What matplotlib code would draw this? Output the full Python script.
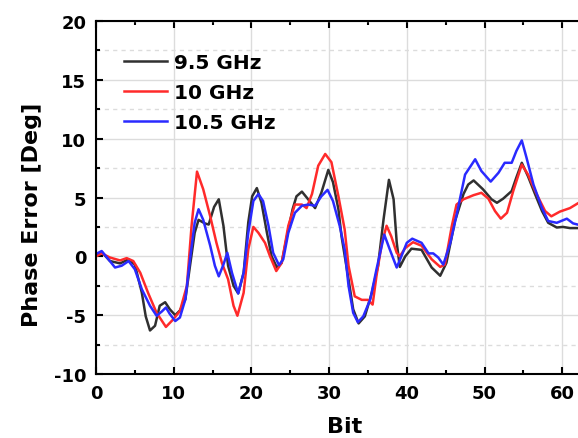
import numpy as np
import matplotlib
matplotlib.use("Agg")
import matplotlib.pyplot as plt
from matplotlib.ticker import MultipleLocator

plt.rcParams['font.family'] = ['DejaVu Sans']
plt.rcParams['font.weight'] = 'bold'
plt.rcParams['axes.unicode_minus'] = False

# values (bit, phase error in deg)
bit_95 = [0, 0.73, 1.8, 3.1, 4.2, 5.0, 5.9, 6.4, 6.95, 7.6, 8.2, 8.9, 9.5, 10.2, 10.8,
          11.5, 12.1, 12.7, 13.2, 14.0, 14.5, 15.2, 15.8, 16.4, 17.0, 17.7, 18.3, 19.0,
          19.6, 20.1, 20.7, 21.3, 22.0, 22.6, 23.3, 23.9, 24.5, 25.3, 25.8, 26.5, 27.3,
          28.2, 29.0, 29.9, 30.5, 31.2, 31.6, 32.5, 33.1, 33.8, 34.6, 35.5, 36.3, 37.0,
          37.7, 38.3, 38.7, 39.1, 39.8, 40.6, 41.9, 43.2, 44.3, 45.1, 46.2, 47.3, 47.9,
          48.6, 49.8, 50.9, 51.6, 52.4, 53.5, 54.1, 54.8, 55.6, 56.5, 57.4, 58.2, 59.3,
          60.1, 61.0, 62.0]
err_95 = [0.0, 0.37, -0.4, -0.6, -0.25, -0.7, -3.1, -5.1, -6.3, -5.9, -4.2, -3.9, -4.5,
          -5.0, -4.6, -3.65, -0.8, 2.0, 3.1, 2.8, 2.7, 4.2, 4.85, 2.6, -0.8, -2.5, -3.15,
          -1.4, 2.9, 5.1, 5.8, 4.55, 2.0, 0.0, -0.97, -0.55, 1.45, 4.0, 5.1, 5.5, 4.85,
          4.1, 5.4, 7.35, 6.3, 4.0, 1.7, -1.95, -4.5, -5.7, -5.1, -3.1, -0.8, 3.1, 6.5,
          4.85, 1.2, -0.9, 0.0, 0.65, 0.55, -0.95, -1.65, -0.55, 3.0, 5.3, 6.1, 6.45,
          5.7, 4.85, 4.55, 4.9, 5.55, 6.7, 7.95, 6.8, 5.3, 3.85, 2.85, 2.45, 2.5, 2.4, 2.4]

bit_10 = [0, 0.73, 1.8, 3.1, 3.95, 4.8, 5.7, 6.7, 7.8, 9.0, 9.95, 10.8, 11.7, 12.3,
          13.0, 13.8, 14.7, 15.5, 16.2, 17.0, 17.7, 18.2, 19.0, 19.6, 20.25, 20.9, 21.75,
          22.4, 23.2, 23.9, 24.75, 25.6, 26.5, 27.1, 27.8, 28.6, 29.5, 30.3, 31.2, 32.0,
          32.5, 33.3, 34.2, 35.0, 35.6, 36.1, 36.8, 37.4, 38.0, 38.7, 39.1, 39.8, 40.8,
          41.9, 43.2, 44.3, 44.9, 45.8, 46.4, 47.3, 48.6, 49.6, 50.5, 51.35, 52.1, 52.9,
          53.7, 54.8, 55.6, 56.7, 57.8, 58.6, 59.7, 61.0, 62.0]
err_10 = [0.0, 0.25, -0.1, -0.35, -0.15, -0.4, -1.4, -3.1, -4.8, -6.0, -5.35, -4.65,
          -2.5, 2.6, 7.2, 5.7, 3.4, 1.15, -0.55, -1.95, -4.2, -5.05, -3.1, 0.6, 2.5, 2.0,
          1.15, 0.0, -1.25, -0.55, 2.6, 4.4, 4.4, 4.1, 5.3, 7.7, 8.7, 8.0, 5.1, 2.3, -0.8,
          -3.4, -3.7, -3.7, -4.1, -1.65, 1.15, 2.6, 1.7, 0.3, 0.0, 0.7, 1.2, 0.9, -0.25,
          -0.9, -0.7, 2.6, 4.4, 4.85, 5.2, 5.4, 4.9, 3.85, 3.2, 3.7, 5.55, 7.8, 6.95, 5.3,
          3.85, 3.4, 3.8, 4.1, 4.5]

bit_105 = [0, 0.73, 1.6, 2.45, 3.3, 4.2, 5.0, 5.9, 6.95, 7.8, 8.45, 9.0, 9.5, 10.2,
           10.8, 11.5, 12.1, 12.7, 13.2, 13.8, 14.7, 15.3, 15.8, 16.4, 16.9, 17.5, 18.3,
           19.0, 19.6, 20.25, 20.9, 21.5, 22.2, 22.8, 23.55, 24.1, 24.75, 25.6, 26.5,
           27.3, 28.2, 29.0, 29.8, 30.5, 31.4, 32.0, 32.5, 33.1, 33.7, 34.4, 35.3, 36.1,
           37.1, 37.8, 38.7, 39.3, 40.0, 40.7, 41.9, 42.8, 43.4, 44.05, 44.7, 45.6, 46.4,
           47.5, 48.8, 49.6, 50.8, 51.8, 52.6, 53.5, 54.1, 54.8, 55.4, 56.3, 57.4, 58.2,
           59.3, 60.6, 61.4, 62.0]
err_105 = [0.2, 0.45, -0.25, -0.95, -0.8, -0.4, -1.1, -2.8, -4.2, -5.05, -4.7, -4.35,
           -4.9, -5.5, -5.2, -3.65, -0.25, 2.85, 4.0, 3.1, 0.9, -0.8, -1.7, -0.7, 0.3,
           -1.4, -3.15, -1.4, 2.0, 4.7, 5.3, 4.7, 2.6, 0.3, -0.75, -0.25, 2.0, 3.7, 4.3,
           4.4, 4.3, 5.1, 5.65, 4.7, 2.5, 0.6, -2.5, -4.8, -5.6, -5.1, -3.65, -1.1, 1.85,
           0.6, -0.95, 0.0, 1.15, 1.5, 1.15, 0.25, 0.25, -0.1, -0.7, 1.15, 3.5, 6.95,
           8.25, 7.25, 6.35, 7.1, 7.95, 7.95, 8.95, 9.85, 8.4, 6.1, 4.1, 3.0, 2.85, 3.2,
           2.8, 2.7]

labels = ["9.5 GHz", "10 GHz", "10.5 GHz"]
colors = ["#303030", "#ff2a2a", "#2a2aff"]

fig = plt.figure(figsize=(5.78, 4.39), dpi=100)
ax = fig.add_axes([96 / 578, 64 / 439, 64 * 7.77 / 578, 353 / 439])

for x, y, lab, col in zip([bit_95, bit_10, bit_105], [err_95, err_10, err_105], labels, colors):
    ax.plot(x, y, color=col, lw=1.8, label=lab)

ax.set_xlim(0, 64)
ax.set_ylim(-10, 20)
ax.xaxis.set_major_locator(MultipleLocator(10))
ax.xaxis.set_minor_locator(MultipleLocator(5))
ax.yaxis.set_major_locator(MultipleLocator(5))
ax.yaxis.set_minor_locator(MultipleLocator(2.5))
ax.grid(True, which='major', color='#dcdcdc', lw=1.0, ls='-')
ax.grid(True, which='minor', axis='y', color='#dcdcdc', lw=1.0, ls=(0, (3, 3)))
ax.set_axisbelow(True)

for s in ax.spines.values():
    s.set_linewidth(1.5)
ax.spines['right'].set_visible(False)
ax.tick_params(which='both', direction='in', top=True, right=False, width=1.5,
               labelsize=13, pad=7)
ax.tick_params(which='major', length=5)
ax.tick_params(which='minor', length=3)

ax.set_xlabel("Bit", fontsize=16, fontweight='bold', labelpad=10)
ax.set_ylabel("Phase Error [Deg]", fontsize=16, fontweight='bold')
ax.yaxis.set_label_coords(-0.109, 0.453)

ax.legend(loc='upper left', bbox_to_anchor=(0.056, 0.91), frameon=False,
          fontsize=14.5, handlelength=2.15, handletextpad=0.35, labelspacing=0.55,
          borderpad=0, borderaxespad=0)

fig.savefig("out.png", dpi=100)
